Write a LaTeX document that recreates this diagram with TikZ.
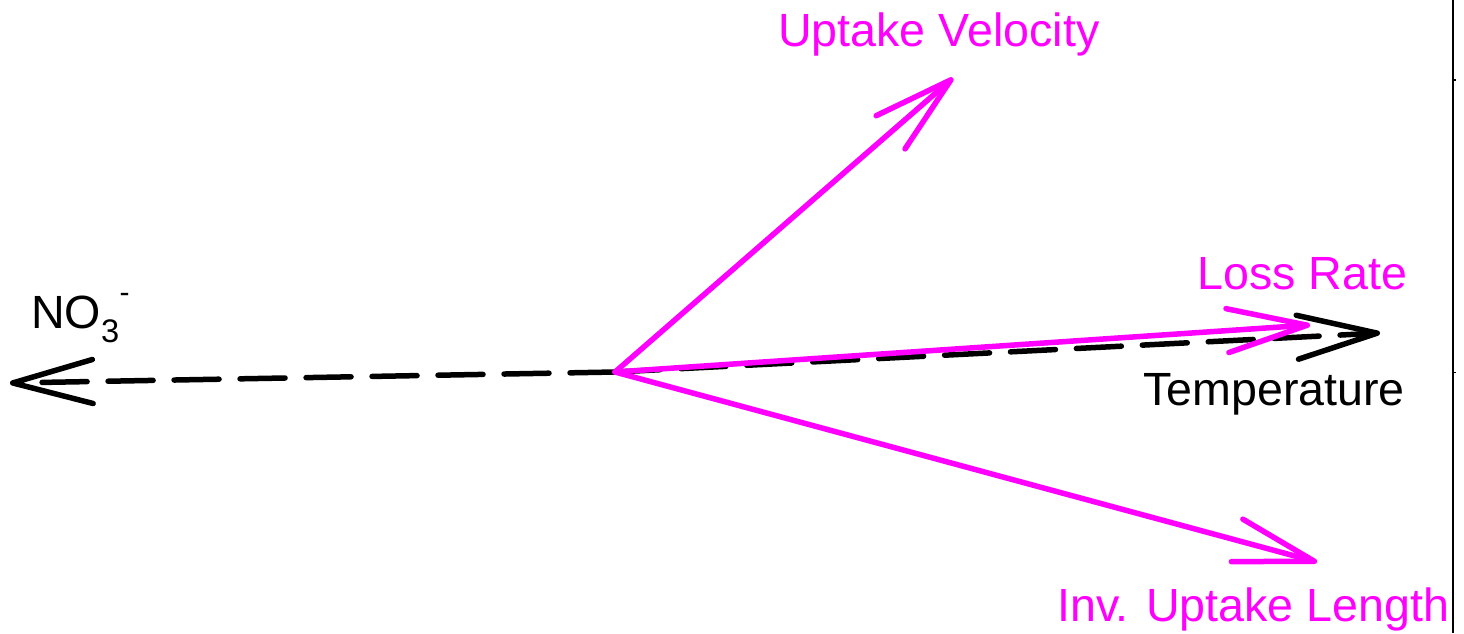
\documentclass[tikz,border=0pt]{standalone}
\usepackage{fontspec}
\setmainfont{Liberation Sans}
\usetikzlibrary{arrows.meta}
\definecolor{mag}{RGB}{255,0,255}
\begin{document}
\begin{tikzpicture}[x=1pt,y=-1pt,
  vec/.style={line width=5.5pt, line cap=round, line join=round,
    -{Straight Barb[length=80pt,width=44pt,round]}},
  magvec/.style={vec, draw=mag},
  blkvec/.style={vec, draw=black, dash pattern=on 45pt off 21pt},
  lbl/.style={inner sep=0pt, font=\fontsize{46.6}{50}\selectfont},
]
\useasboundingbox (0,0) rectangle (1464,633);
\fill[white] (0,0) rectangle (1464,633);
% axis line on the right
\draw[line width=2pt] (1453,0) -- (1453,633);
\draw[line width=1.5pt] (1453,80) -- (1456,80);
\draw[line width=1.5pt] (1453,372.5) -- (1456,372.5);
% coordinates
\coordinate (O) at (615,372);
\coordinate (no3) at (10,383);
\coordinate (temp) at (1380,333);
\coordinate (loss) at (1310,325);
\coordinate (uv) at (953,78);
\coordinate (iul) at (1317,562);
% black dashed vectors
\draw[blkvec] (O) -- (no3);
\draw[blkvec] (O) -- (temp);
% magenta vectors
\draw[magvec] (O) -- (uv);
\draw[magvec] (O) -- (loss);
\draw[magvec] (O) -- (iul);
% labels
\node[lbl, text=mag, anchor=base west] (luv) at (778,46) {Uptake Velocity};
\node[lbl, text=mag, anchor=base west] (lloss) at (1197,289) {Loss Rate};
\node[lbl, text=black, anchor=base west] (ltemp) at (1143,405) {Temperature};
\node[lbl, text=mag, anchor=base west] (liul) at (1057,621) {Inv. Uptake Length};
\node[lbl, text=black, anchor=base west] (lno3) at (31,328) {NO$_{\mathrm{3}}$\raisebox{0.55em}{\fontsize{30}{30}\selectfont -}};
\end{tikzpicture}
\end{document}
